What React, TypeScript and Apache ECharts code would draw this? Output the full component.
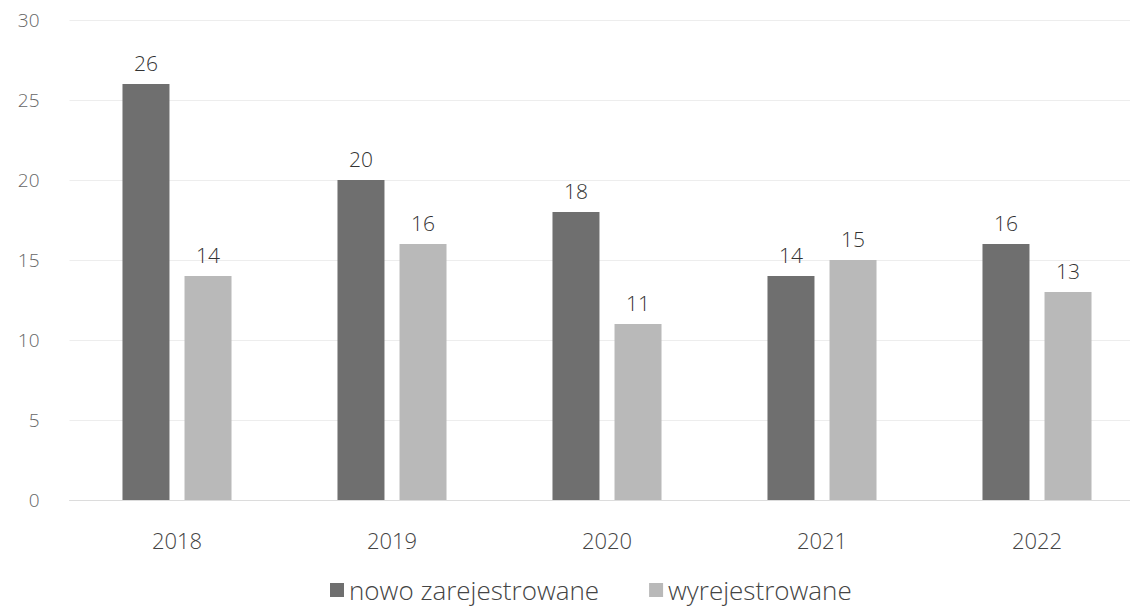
import React, { useEffect, useRef } from "react";
import * as echarts from "echarts";

const categories = ["2018", "2019", "2020", "2021", "2022"];
const nowoZarejestrowane = [26, 20, 18, 14, 16];
const wyrejestrowane = [14, 16, 11, 15, 13];
const seriesNames = ["nowo zarejestrowane", "wyrejestrowane"];

export default function App() {
  const ref = useRef<HTMLDivElement>(null);
  useEffect(() => {
    const chart = echarts.init(ref.current!, null, { renderer: "svg" });
    const font = "Open Sans";
    const labelStyle = { show: true, position: "top", distance: 11, fontSize: 21, color: "#333", fontWeight: 300, fontFamily: font };
    chart.setOption({
      animation: false,
      textStyle: { fontFamily: font },
      grid: { left: 61.5, width: 1075, top: 12, height: 480, containLabel: false },
      legend: {
        bottom: 0,
        left: 317,
        itemWidth: 14,
        itemHeight: 14,
        itemGap: 50,
        icon: "rect",
        textStyle: { fontSize: 26, color: "#444", fontFamily: font, fontWeight: 300, lineHeight: 28 },
        data: seriesNames,
      },
      xAxis: {
        type: "category",
        data: categories,
        axisLine: { show: true, lineStyle: { color: "#dcdcdc" } },
        axisTick: { show: false },
        axisLabel: { fontSize: 22, color: "#444", margin: 29, fontWeight: 300 },
      },
      yAxis: {
        type: "value",
        min: 0,
        max: 30,
        interval: 5,
        axisLine: { show: false },
        axisTick: { show: false },
        splitLine: { lineStyle: { color: "#ededed" } },
        axisLabel: { fontSize: 19, color: "#666", margin: 30, fontWeight: 300 },
      },
      series: [
        {
          name: seriesNames[0],
          type: "bar",
          data: nowoZarejestrowane,
          barWidth: 47,
          barGap: "32%",
          itemStyle: { color: "#6f6f6f" },
          label: labelStyle,
        },
        {
          name: seriesNames[1],
          type: "bar",
          data: wyrejestrowane,
          barWidth: 47,
          itemStyle: { color: "#b9b9b9" },
          label: labelStyle,
        },
      ],
    });
    return () => chart.dispose();
  }, []);
  return (
    <div style={{ width: 1130, height: 601, overflow: "hidden" }}>
      <div ref={ref} style={{ width: 1160, height: 601 }} />
    </div>
  );
}
